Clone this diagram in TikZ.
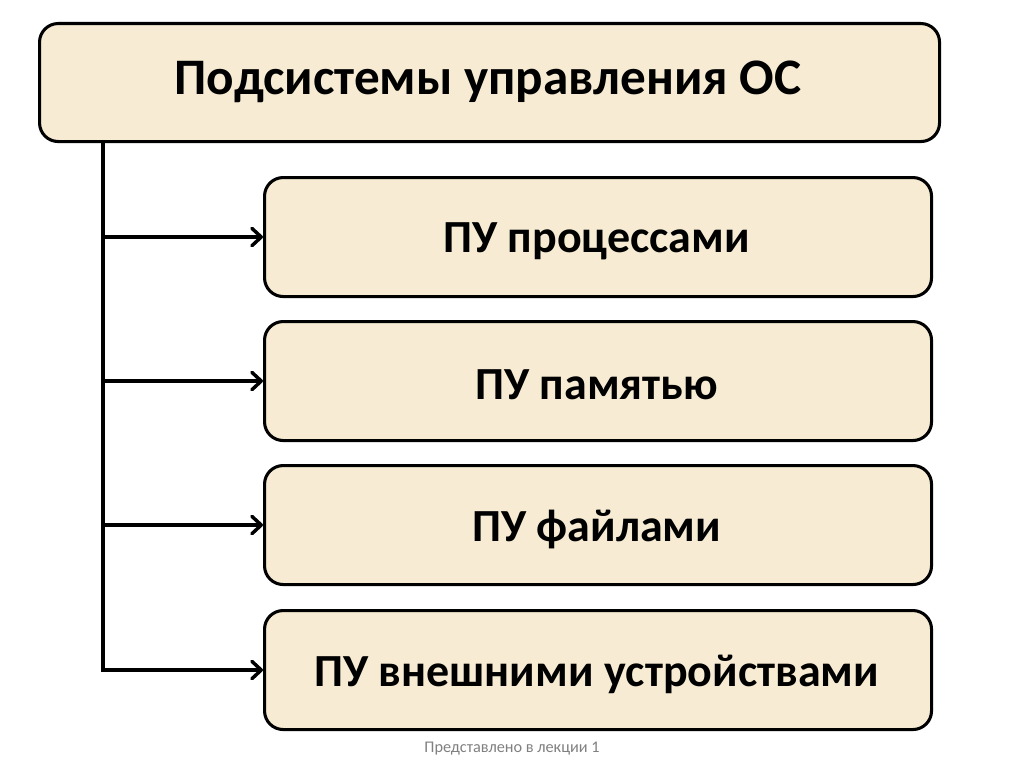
\documentclass[tikz,border=0pt]{standalone}
\usepackage{fontspec}
\setmainfont{Carlito}
\usetikzlibrary{arrows.meta}
\definecolor{boxfill}{HTML}{F7ECD3}
\definecolor{foot}{HTML}{808080}
\begin{document}
\begin{tikzpicture}[x=0.75pt,y=-0.75pt,
  box/.style={draw=black,line width=2.3pt,fill=boxfill,rounded corners=14pt,anchor=north west,inner sep=0pt},
  lbl/.style={font=\fontsize{34.5}{40}\selectfont\bfseries,text=black},
  conn/.style={line width=3pt,line join=miter,-{Straight Barb[length=7pt,width=13pt,line width=2.6pt,line cap=round,line join=round]}}]
\useasboundingbox (0,0) rectangle (1024,767);
\fill[white] (0,0) rectangle (1024,767);
\node[box,minimum width=900*0.75pt,minimum height=118*0.75pt] (top) at (38,22) {};
\node[lbl,font=\fontsize{38.4}{44}\selectfont\bfseries] at (488,82) {Подсистемы управления ОС};
\node[box,minimum width=667*0.75pt,minimum height=119*0.75pt] (b1) at (263,176) {};
\node[box,minimum width=667*0.75pt,minimum height=119*0.75pt] (b2) at (263,320) {};
\node[box,minimum width=667*0.75pt,minimum height=119*0.75pt] (b3) at (263,464) {};
\node[box,minimum width=667*0.75pt,minimum height=119*0.75pt] (b4) at (263,609) {};
\node[lbl] at ([xshift=-1pt,yshift=-3pt]b1.center) {ПУ процессами};
\node[lbl] at ([xshift=-1pt,yshift=-3pt]b2.center) {ПУ памятью};
\node[lbl] at ([xshift=-1pt,yshift=-3pt]b3.center) {ПУ файлами};
\node[lbl] at ([xshift=-1pt,yshift=-3pt]b4.center) {ПУ внешними устройствами};
\coordinate (v0) at (103,140);
\draw[conn] (v0) -- (v0 |- b4.west) -- (b4.west);
\foreach \b in {b1,b2,b3} {
  \draw[conn] (v0 |- \b.west) -- (\b.west);
}
\node[font=\fontsize{12.2}{15}\selectfont,text=foot] (foot) at (512,749) {Представлено в лекции 1};
\end{tikzpicture}
\end{document}
